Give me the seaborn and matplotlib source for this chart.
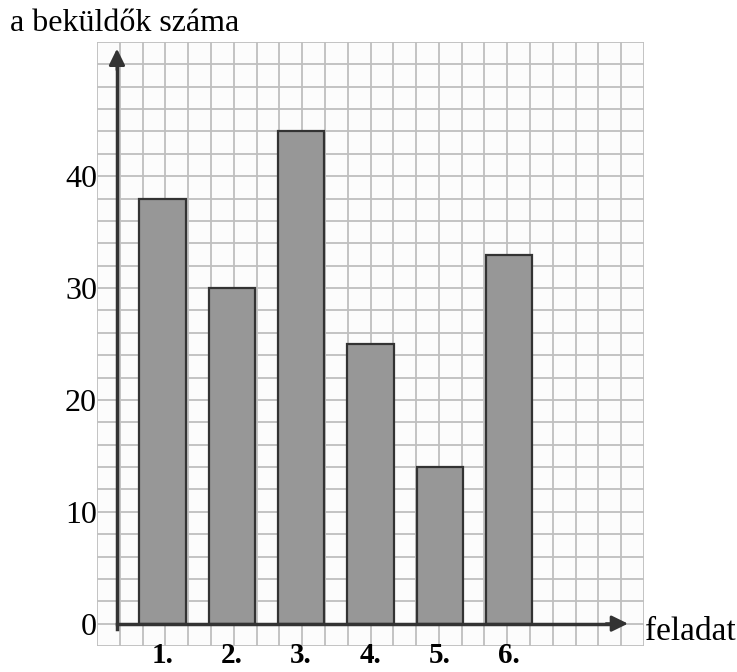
import numpy as np
import pandas as pd
import matplotlib
matplotlib.use('Agg')
import matplotlib.pyplot as plt
import seaborn as sns

# values -----------------------------
tasks = ['1.', '2.', '3.', '4.', '5.', '6.']
counts = [38, 30, 44, 25, 14, 33]
y_ticks = [0, 10, 20, 30, 40]
y_title = 'a beküldők száma'
x_title = 'feladat'

sns.set_style('white')
plt.rcParams['font.family'] = ['Liberation Serif', 'DejaVu Serif']

df = pd.DataFrame({'feladat': tasks, 'db': counts})

W, H = 737, 672
fig = plt.figure(figsize=(W / 100, H / 100), dpi=100)
# axes box = the squared paper area
ax = fig.add_axes([97 / W, 1 - 646 / H, (644 - 97) / W, (646 - 42) / H])

XLO, XHI = -0.945, 6.948
YLO, YHI = -2, 52
AX_X = -0.657  # where the vertical axis sits
INK = '#333333'

# squared paper background
ax.set_facecolor('#fcfcfc')
for gx in np.linspace(XLO, XHI, 25):
    ax.axvline(gx, color='#bfbfbf', lw=1.3, zorder=0)
for gy in np.arange(YLO, YHI + 1, 2):
    ax.axhline(gy, color='#bfbfbf', lw=1.3, zorder=0)

sns.barplot(data=df, x='feladat', y='db', color='#979797', saturation=1,
            width=0.667, edgecolor=INK, linewidth=1.6, ax=ax, zorder=2)

ax.set_xlim(XLO, XHI)
ax.set_ylim(YLO, YHI)
ax.set_xlabel('')
ax.set_ylabel('')

# axes drawn like on the worksheet
for s in ['top', 'right']:
    ax.spines[s].set_visible(False)
ax.spines['left'].set_position(('data', AX_X))
ax.spines['bottom'].set_position(('data', 0))
ax.spines['left'].set_bounds(-0.5, 50)
ax.spines['bottom'].set_bounds(AX_X, 6.5)
for s in ['left', 'bottom']:
    ax.spines[s].set_linewidth(2.5)
    ax.spines[s].set_color(INK)

ax.set_yticks(y_ticks)
ax.tick_params(axis='y', direction='inout', length=12, width=2.2, color=INK,
               pad=8.4, labelsize=23, labelcolor='black')
ax.tick_params(axis='x', length=0, pad=13, labelsize=21, labelcolor='black')
for t in ax.get_xticklabels():
    t.set_fontweight('bold')

# arrow heads
head = '-|>,head_length=0.45,head_width=0.22'
ax.annotate('', xy=(AX_X, 51.4), xytext=(AX_X, 49.5), annotation_clip=False,
            arrowprops=dict(arrowstyle=head, color=INK, lw=2, mutation_scale=22,
                            shrinkA=0, shrinkB=0))
ax.annotate('', xy=(6.717, 0), xytext=(6.4, 0), annotation_clip=False,
            arrowprops=dict(arrowstyle=head, color=INK, lw=2, mutation_scale=22,
                            shrinkA=0, shrinkB=0))

fig.text(10 / W, 1 - 31 / H, y_title, fontsize=23, va='baseline', ha='left',
         color='black')
fig.text(645 / W, 1 - 640 / H, x_title, fontsize=24, va='baseline', ha='left',
         color='black')

fig.savefig('out.png', dpi=100)
